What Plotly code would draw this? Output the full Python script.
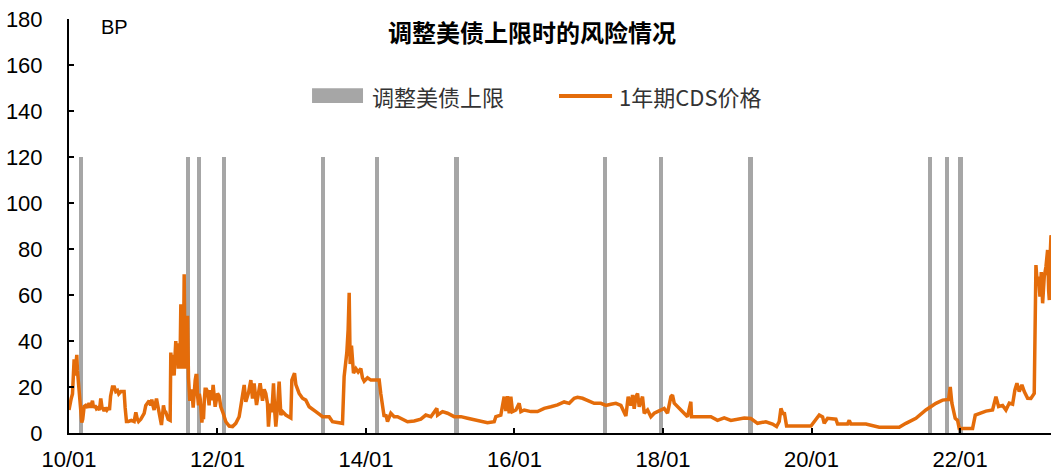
import pandas as pd
import plotly.graph_objects as go

# Debt-ceiling adjustment events (drawn as bars of fixed height)
ceiling_dates = [
    "2010-02-28", "2011-08-11", "2011-10-01", "2012-02-04", "2013-06-02",
    "2014-02-22", "2015-03-22", "2017-03-20", "2017-12-20", "2019-03-07",
    "2021-08-08", "2021-10-27", "2022-01-03",
]
ceiling_height = [120] * len(ceiling_dates)

# 1-year US CDS price (bp); time given as decimal years
cds_time = [
    2010.000, 2010.011, 2010.030, 2010.047, 2010.060, 2010.069, 2010.080, 2010.092, 2010.105, 2010.114,
    2010.128, 2010.145, 2010.160, 2010.172, 2010.185, 2010.204, 2010.225, 2010.249, 2010.270, 2010.290,
    2010.316, 2010.330, 2010.350, 2010.370, 2010.390, 2010.410, 2010.428, 2010.445, 2010.460, 2010.473,
    2010.490, 2010.510, 2010.530, 2010.545, 2010.560, 2010.585, 2010.610, 2010.630, 2010.653, 2010.670,
    2010.698, 2010.742, 2010.756, 2010.774, 2010.800, 2010.840, 2010.877, 2010.900, 2010.920, 2010.936,
    2010.967, 2010.990, 2011.012, 2011.034, 2011.050, 2011.079, 2011.100, 2011.115, 2011.130, 2011.146,
    2011.165, 2011.178, 2011.195, 2011.214, 2011.230, 2011.245, 2011.260, 2011.272, 2011.290, 2011.304,
    2011.335, 2011.362, 2011.371, 2011.380, 2011.393, 2011.405, 2011.416, 2011.427, 2011.438, 2011.450,
    2011.461, 2011.472, 2011.483, 2011.495, 2011.506, 2011.517, 2011.528, 2011.540, 2011.551, 2011.562,
    2011.573, 2011.585, 2011.596, 2011.609, 2011.627, 2011.640, 2011.654, 2011.672, 2011.685, 2011.699,
    2011.710, 2011.721, 2011.732, 2011.744, 2011.755, 2011.766, 2011.778, 2011.789, 2011.800, 2011.811,
    2011.822, 2011.833, 2011.850, 2011.865, 2011.887,
    2011.896, 2011.923, 2011.941, 2011.968, 2012.000, 2012.022, 2012.044, 2012.076, 2012.112, 2012.157,
    2012.202, 2012.246, 2012.291, 2012.327, 2012.359, 2012.381, 2012.417, 2012.449, 2012.471, 2012.493,
    2012.525, 2012.552, 2012.574, 2012.606, 2012.628, 2012.650, 2012.673, 2012.686, 2012.709, 2012.731,
    2012.754, 2012.772, 2012.785, 2012.808, 2012.830, 2012.853, 2012.875, 2012.920, 2012.965, 2012.987,
    2013.001, 2013.023, 2013.037, 2013.055, 2013.099, 2013.144, 2013.189, 2013.234, 2013.279, 2013.324,
    2013.369, 2013.414, 2013.459, 2013.503, 2013.548, 2013.638, 2013.683,
    2013.705, 2013.741, 2013.759, 2013.773, 2013.786, 2013.804, 2013.831, 2013.863, 2013.894, 2013.930,
    2013.952, 2013.975, 2014.020, 2014.065, 2014.132, 2014.177, 2014.199, 2014.222, 2014.244, 2014.267,
    2014.289, 2014.334, 2014.379, 2014.424, 2014.491, 2014.559, 2014.648, 2014.738, 2014.805, 2014.873,
    2014.954, 2014.963, 2015.030, 2015.097, 2015.187, 2015.277, 2015.367, 2015.456, 2015.546, 2015.636,
    2015.726, 2015.748, 2015.815, 2015.860, 2015.883, 2015.905, 2015.928, 2015.950, 2015.973, 2016.018,
    2016.062, 2016.085, 2016.130, 2016.220, 2016.309, 2016.399, 2016.489, 2016.579, 2016.668, 2016.736,
    2016.803, 2016.848, 2016.915, 2016.983, 2017.072, 2017.162, 2017.230, 2017.297, 2017.364, 2017.432,
    2017.499, 2017.530, 2017.566, 2017.589, 2017.611, 2017.634, 2017.656, 2017.679, 2017.723, 2017.746,
    2017.791, 2017.836, 2017.881, 2017.925, 2017.970, 2018.015, 2018.060, 2018.105, 2018.127, 2018.150,
    2018.240, 2018.329, 2018.374, 2018.383, 2018.644, 2018.733, 2018.823, 2018.913, 2019.093, 2019.182,
    2019.272, 2019.384, 2019.474, 2019.528, 2019.564, 2019.587, 2019.618, 2019.632, 2019.663, 2019.991,
    2020.103, 2020.148, 2020.170, 2020.215, 2020.327, 2020.350, 2020.484, 2020.507, 2020.529, 2020.731,
    2020.911, 2021.180, 2021.270, 2021.405, 2021.539, 2021.674, 2021.764, 2021.845, 2021.867, 2021.889,
    2021.934, 2021.966, 2021.988, 2022.168, 2022.204, 2022.258, 2022.348, 2022.437, 2022.482, 2022.518,
    2022.572, 2022.617, 2022.662, 2022.707, 2022.738, 2022.765, 2022.796, 2022.832, 2022.864, 2022.909,
    2022.953, 2022.998, 2023.012, 2023.021, 2023.039, 2023.057, 2023.075, 2023.093, 2023.111, 2023.133,
    2023.156, 2023.178, 2023.192, 2023.201, 2023.210, 2023.224, 2023.237,
]
cds_bp = [
    10, 13, 15, 17, 30, 32, 25, 33, 34, 27,
    22, 18, 12, 4.5, 6, 11.5, 12, 11, 13, 11,
    14, 11, 12, 10.5, 11, 10, 15, 11, 10.5, 9.5,
    11, 10, 11, 10, 16, 20, 20, 18, 18.5, 17,
    18, 18, 11, 5, 5, 5.5, 5, 9, 6, 5,
    6, 7, 8.5, 12, 13, 14, 12, 14.5, 12, 10,
    13, 15, 12, 9, 7, 3.5, 8, 12, 9, 9,
    6, 5.5, 35, 30, 34, 27, 25, 33, 40, 30,
    36, 28, 39, 30, 56, 28, 38, 30, 69, 28,
    46, 28, 51, 24, 14, 17, 19, 11, 20, 23,
    25, 25, 16, 12, 17, 15, 10, 4.5, 8, 6,
    14, 19, 19, 18, 12,
    18.7, 14.3, 20.9, 11.4, 17.2, 16, 11.4, 8.6, 4.9, 3,
    2.8, 4.2, 7.1, 14.3, 20.9, 13.6, 17.5, 23, 15, 21.6,
    12.2, 17.5, 21.6, 14, 19, 17.2, 12.8, 2.8, 12.8, 9,
    21.6, 8.6, 2.8, 11.4, 22.3, 7.8, 9.3, 7.8, 7.1, 6.5,
    23, 24.5, 26, 21, 17.2, 15.1, 14.3, 11.4, 10.5, 9.3,
    8.2, 7.1, 7.1, 7.1, 4.9, 4.2, 4.2,
    24.5, 35, 45, 61, 30, 38, 26, 28, 26.5, 28,
    24, 22.5, 24, 23, 23, 23, 17, 11.4, 7.1, 8,
    4.9, 8.6, 7.1, 7.1, 5.8, 4.9, 5.2, 6, 7.8, 7.1,
    10.7, 7.8, 9.3, 8.6, 7.1, 7.1, 6.4, 5.8, 4.9, 4.5,
    4.9, 7.1, 7.8, 15.8, 9.5, 16, 8.5, 15.8, 9.3, 10,
    12.9, 9.3, 10, 9.3, 9.3, 10.7, 11.4, 12.2, 13.5, 12.9,
    15.1, 15.5, 15.1, 14.3, 12.9, 12.9, 12, 12.5, 12.9, 12,
    7.4, 15.8, 12, 16.5, 10.5, 15.8, 17.2, 11.4, 15.8, 8.6,
    10, 7.1, 8.6, 9.3, 10, 10.7, 8.6, 15.8, 16.5, 13,
    10, 7.1, 13.6, 7.1, 7.1, 5.5, 6.6, 5.5, 6.5, 6.3,
    4.2, 4.9, 3.9, 2.8, 5, 10.7, 8, 9, 3, 3,
    7.8, 7, 4.2, 6.4, 6, 3.9, 3.9, 5.5, 3.9, 3.9,
    2.5, 2.5, 4.2, 6.4, 10, 12.9, 14.3, 14.6, 20, 13,
    6.4, 5.5, 2, 2, 7.8, 8.5, 9.5, 10, 15.8, 11.5,
    12, 10, 13, 12.5, 18.7, 21.6, 18, 20.9, 18, 15.1,
    15, 17.2, 49, 73, 65, 68, 59.3, 70, 56.4, 68,
    72.3, 79.6, 62, 57.8, 75, 86, 84,
]

y_ticks = list(range(0, 181, 20))

BAR_COLOR = "#A6A6A6"
LINE_COLOR = "#E46C0A"
TEXT_FONT = "Liberation Sans, Arial, sans-serif"
CJK_FONT = "Noto Sans CJK SC, sans-serif"


def to_dates(years):
    base = pd.Timestamp("2010-01-01")
    return [base + pd.Timedelta(days=(y - 2010.0) * 365.25) for y in years]


fig = go.Figure()

fig.add_trace(go.Bar(
    x=pd.to_datetime(ceiling_dates),
    y=ceiling_height,
    width=20 * 24 * 3600 * 1000,
    marker=dict(color=BAR_COLOR, line=dict(width=0)),
    name="调整美债上限",
    hoverinfo="x",
))

fig.add_trace(go.Scatter(
    x=to_dates(cds_time),
    y=cds_bp,
    mode="lines",
    line=dict(color=LINE_COLOR, width=3.5),
    name="1年期CDS价格",
))

fig.update_layout(
    width=1051,
    height=472,
    margin=dict(l=69, r=0, t=19, b=39),
    paper_bgcolor="white",
    plot_bgcolor="white",
    showlegend=False,
    bargap=0,
    font=dict(family=TEXT_FONT, color="black"),
)

fig.update_xaxes(
    type="date",
    range=["2010-01-01", "2023-03-24"],
    tick0="2010-01-01",
    dtick="M24",
    tickformat="%y/%m",
    ticks="inside",
    ticklen=5,
    tickwidth=2,
    tickcolor="black",
    showline=True,
    linecolor="black",
    linewidth=2,
    showgrid=False,
    zeroline=False,
    automargin=False,
    tickfont=dict(size=22, color="black", family=TEXT_FONT),
    ticklabelstandoff=6,
)

fig.update_yaxes(
    range=[0, 180],
    tickvals=y_ticks,
    ticks="inside",
    ticklen=5,
    tickwidth=2,
    tickcolor="black",
    showline=True,
    linecolor="black",
    linewidth=2,
    showgrid=False,
    zeroline=False,
    automargin=False,
    tickfont=dict(size=22, color="black", family=TEXT_FONT),
    ticklabelstandoff=20,
)

# Title, unit label and a hand-built legend
fig.add_annotation(
    text="<b>调整美债上限时的风险情况</b>",
    xref="paper", yref="paper", x=0.4715, y=0.9686,
    xanchor="center", yanchor="middle", showarrow=False,
    font=dict(family=CJK_FONT, size=24, color="black"),
)
fig.add_annotation(
    text="BP",
    xref="paper", yref="paper", x=0.031, y=0.981,
    xanchor="left", yanchor="middle", showarrow=False,
    font=dict(family=TEXT_FONT, size=20, color="black"),
)

fig.add_shape(
    type="rect", xref="paper", yref="paper",
    x0=0.2475, x1=0.2994, y0=0.797, y1=0.833,
    fillcolor=BAR_COLOR, line=dict(width=0),
)
fig.add_annotation(
    text="调整美债上限",
    xref="paper", yref="paper", x=0.3065, y=0.814,
    xanchor="left", yanchor="middle", showarrow=False,
    font=dict(family=CJK_FONT, size=22, color="#333333"),
)
fig.add_shape(
    type="line", xref="paper", yref="paper",
    x0=0.499, x1=0.553, y0=0.814, y1=0.814,
    line=dict(color=LINE_COLOR, width=4),
)
fig.add_annotation(
    text="1年期CDS价格",
    xref="paper", yref="paper", x=0.558, y=0.814,
    xanchor="left", yanchor="middle", showarrow=False,
    font=dict(family=CJK_FONT, size=22, color="#333333"),
)

fig.write_html("out.html")
